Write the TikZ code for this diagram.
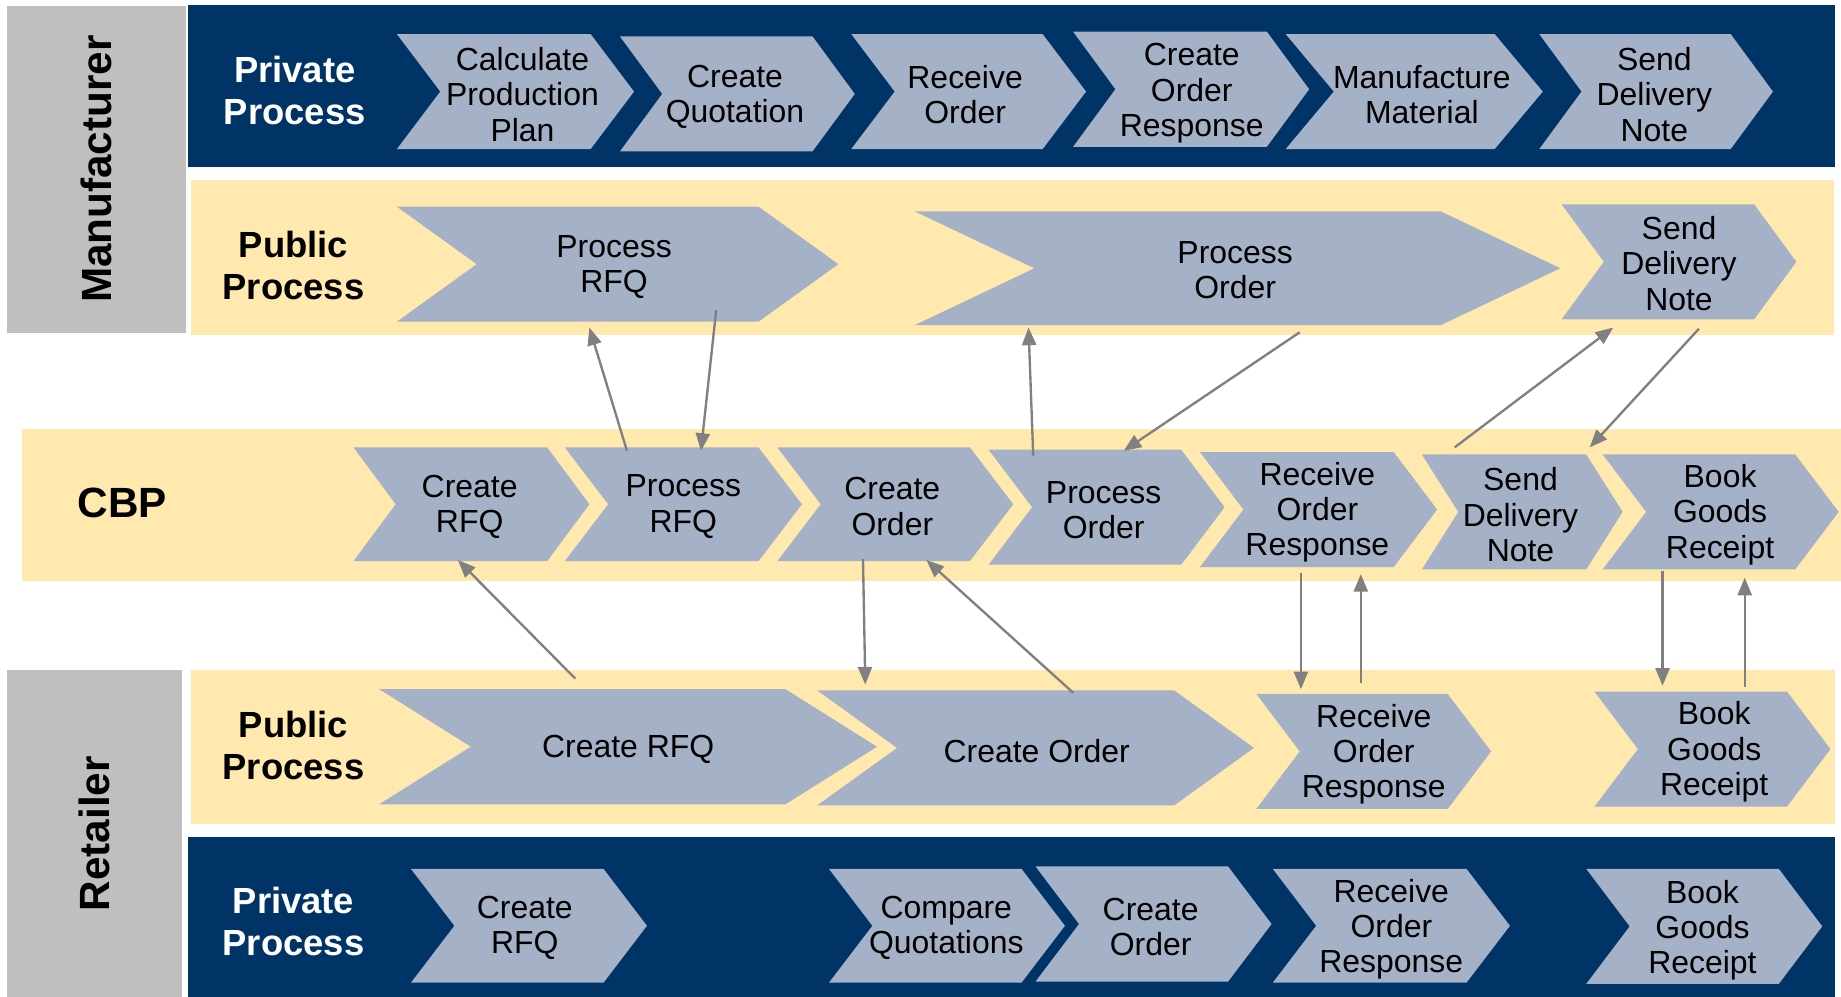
\documentclass[tikz,border=0pt]{standalone}
\usepackage{fontspec}
\setmainfont{Liberation Sans}
\usetikzlibrary{arrows.meta}
\definecolor{navy}{RGB}{0,51,102}
\definecolor{chev}{RGB}{165,177,198}
\definecolor{lane}{RGB}{255,233,175}
\definecolor{actor}{RGB}{191,191,191}
\definecolor{arrowgray}{RGB}{128,128,128}
\newcommand\chv[9]{%
  \fill[chev] (#2,#5) -- (#3,#5) -- ({#3+#4},{(#5+#6)/2}) -- (#3,#6) -- (#2,#6) -- ({#2+#4},{(#5+#6)/2}) -- cycle;
  \node[chevtext] (#1) at (#7,#8) {#9};}
\begin{document}
\begin{tikzpicture}[x=0.5pt,y=-0.5pt,
  chevtext/.style={inner sep=0pt,align=center,yshift=-1.2pt,font=\fontsize{13.6}{15}\selectfont},
  lanelabel/.style={inner sep=0pt,align=center,font=\fontsize{15.5}{18}\selectfont\bfseries},
  actorlabel/.style={inner sep=0pt,rotate=90,font=\fontsize{18}{20}\selectfont\bfseries},
  flow/.style={draw=arrowgray,line width=1pt,-{Triangle[length=7.5pt,width=6pt]}}]
\useasboundingbox (0,0) rectangle (1568,849);
\fill[white] (0,0) rectangle (1568,849);
% bands
\fill[actor] (6,5) rectangle (158,284);
\fill[navy] (160,4) rectangle (1563,142);
\fill[lane] (163,153) rectangle (1562,285);
\fill[lane] (19,365) rectangle (1568,495);
\fill[actor] (6,571) rectangle (155,849);
\fill[lane] (163,571) rectangle (1563,702);
\fill[navy] (160,713) rectangle (1563,849);
% labels
\node[actorlabel] (lmfr) at (82,144) {Manufacturer};
\node[actorlabel] (lret) at (80,710) {Retailer};
\node[lanelabel,text=white] (lmpriv) at (251,77) {Private\\Process};
\node[lanelabel] (lmpub) at (250,226) {Public\\Process};
\node[lanelabel,font=\fontsize{18}{20}\selectfont\bfseries] (lcbp) at (104,428) {CBP};
\node[lanelabel] (lrpub) at (250,635) {Public\\Process};
\node[lanelabel,text=white] (lrpriv) at (250,785) {Private\\Process};
% manufacturer private
\chv{m1}{338}{503}{37}{29}{127}{445}{78}{Calculate\\Production\\Plan}
\chv{m2}{528}{692}{36}{31}{129}{626}{80}{Create\\Quotation}
\chv{m3}{725}{888}{37}{29}{127}{822}{78}{Receive\\Order}
\chv{m4}{914}{1079}{36}{27}{125}{1015}{77}{Create\\Order\\Response}
\chv{m5}{1095}{1273}{41}{29}{127}{1211}{78}{Manufacture\\Material}
\chv{m6}{1311}{1474}{36}{29}{127}{1409}{78}{Send\\Delivery\\Note}
% manufacturer public
\chv{mp1}{338}{646}{68}{176}{274}{523}{225}{Process\\RFQ}
\chv{mp2}{779}{1227}{102}{180}{277}{1052}{228}{Process\\Order}
\chv{mp3}{1330}{1494}{36}{174}{272}{1430}{222}{Send\\Delivery\\Note}
% CBP
\chv{c1}{301}{466}{36}{381}{478}{400}{429}{Create\\RFQ}
\chv{c2}{481}{646}{37}{381}{478}{582}{429}{Process\\RFQ}
\chv{c3}{662}{826}{37}{381}{478}{760}{429}{Create\\Order}
\chv{c4}{842}{1006}{37}{383}{481}{940}{432}{Process\\Order}
\chv{c5}{1022}{1187}{37}{385}{483}{1122}{434}{Receive\\Order\\Response}
\chv{c6}{1211}{1351}{31}{387}{485}{1295}{436}{Send\\Delivery\\Note}
\chv{c7}{1365}{1529}{37}{387}{485}{1465}{436}{Book\\Goods\\Receipt}
% retailer public
\chv{rp1}{323}{669}{78}{587}{685}{535}{636}{Create RFQ}
\chv{rp2}{696}{1000}{68}{588}{686}{883}{637}{Create Order}
\chv{rp3}{1070}{1233}{37}{591}{689}{1170}{640}{Receive\\Order\\Response}
\chv{rp4}{1358}{1522}{37}{589}{687}{1460}{638}{Book\\Goods\\Receipt}
% retailer private
\chv{r1}{350}{514}{37}{740}{837}{447}{788}{Create\\RFQ}
\chv{r2}{706}{870}{37}{740}{837}{806}{788}{Compare\\Quotations}
\chv{r3}{882}{1046}{37}{738}{836}{980}{787}{Create\\Order}
\chv{r4}{1084}{1249}{37}{740}{837}{1185}{789}{Receive\\Order\\Response}
\chv{r5}{1351}{1515}{37}{740}{838}{1450}{790}{Book\\Goods\\Receipt}
% connector end points
\coordinate (a1s) at (534,384); \coordinate (a1e) at (502,279);
\coordinate (a2s) at (610,264); \coordinate (a2e) at (597,384);
\coordinate (a3s) at (880,388); \coordinate (a3e) at (876,279);
\coordinate (a4s) at (1107,283); \coordinate (a4e) at (957,384);
\coordinate (a5s) at (1239,381); \coordinate (a5e) at (1374,279);
\coordinate (a6s) at (1447,280); \coordinate (a6e) at (1354,381);
\coordinate (a7s) at (490,578); \coordinate (a7e) at (390,477);
\coordinate (a8s) at (735,476); \coordinate (a8e) at (737,583);
\coordinate (a9s) at (914,590); \coordinate (a9e) at (789,477);
\coordinate (a10s) at (1108,488); \coordinate (a10e) at (1108,587);
\coordinate (a11s) at (1159,582); \coordinate (a11e) at (1159,489);
\coordinate (a12s) at (1416,486); \coordinate (a12e) at (1416,584);
\coordinate (a13s) at (1486,585); \coordinate (a13e) at (1486,492);
\foreach \i in {1,...,13} {\draw[flow] (a\i s) -- (a\i e);}
\end{tikzpicture}
\end{document}
